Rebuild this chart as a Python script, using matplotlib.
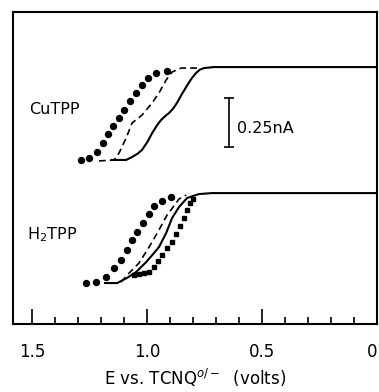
import matplotlib
matplotlib.use("Agg")
import matplotlib.pyplot as plt
from matplotlib.ticker import MultipleLocator

# potential (V vs TCNQ) and current (nA)
cu_solid_v = [1.152, 1.091, 1.065, 1.040, 1.022, 0.998, 0.978, 0.956, 0.939, 0.920, 0.904,
              0.886, 0.870, 0.850, 0.830, 0.808, 0.787, 0.770, 0.752, 0.709, 0.0]
cu_solid_i = [0.837, 0.837, 0.852, 0.870, 0.888, 0.930, 0.974, 1.015, 1.041, 1.062, 1.077,
              1.100, 1.128, 1.170, 1.209, 1.250, 1.281, 1.298, 1.306, 1.311, 1.311]

cu_dash_v = [1.209, 1.143, 1.122, 1.091, 1.065, 1.022, 0.978, 0.948, 0.917, 0.891, 0.852, 0.774]
cu_dash_i = [0.832, 0.837, 0.872, 0.949, 1.026, 1.066, 1.128, 1.179, 1.245, 1.286, 1.306, 1.306]

cu_dot_v = [1.287, 1.252, 1.217, 1.191, 1.170, 1.148, 1.122, 1.100, 1.074, 1.048, 1.022, 0.996, 0.961, 0.913]
cu_dot_i = [0.837, 0.847, 0.878, 0.923, 0.969, 1.010, 1.051, 1.092, 1.138, 1.179, 1.219, 1.255, 1.281, 1.291]

h2_solid_v = [1.183, 1.130, 1.087, 1.048, 1.004, 0.970, 0.948, 0.917, 0.891, 0.861, 0.826, 0.774, 0.717, 0.0]
h2_solid_i = [0.209, 0.209, 0.235, 0.265, 0.316, 0.362, 0.393, 0.464, 0.541, 0.597, 0.643, 0.663, 0.668, 0.668]

h2_dash_v = [1.113, 1.078, 1.035, 0.991, 0.948, 0.913, 0.896, 0.861, 0.830]
h2_dash_i = [0.214, 0.260, 0.311, 0.393, 0.480, 0.556, 0.582, 0.638, 0.658]

h2_dot_v = [1.265, 1.222, 1.178, 1.143, 1.113, 1.087, 1.065, 1.043, 1.017, 0.991, 0.970, 0.935, 0.896]
h2_dot_i = [0.209, 0.214, 0.240, 0.286, 0.327, 0.378, 0.429, 0.469, 0.515, 0.561, 0.602, 0.628, 0.648]

h2_sq_v = [1.057, 1.035, 1.013, 0.991, 0.970, 0.952, 0.935, 0.913, 0.891, 0.874, 0.857, 0.839, 0.826, 0.813, 0.800]
h2_sq_i = [0.250, 0.255, 0.260, 0.265, 0.291, 0.321, 0.352, 0.388, 0.418, 0.459, 0.500, 0.541, 0.582, 0.617, 0.638]

scale_v = 0.643
scale_i = [0.903, 1.153]

fig = plt.figure(figsize=(3.79, 3.92), dpi=100)
ax = fig.add_axes([13 / 379, 68 / 392, 364 / 379, 312 / 392])

lw = 1.5
ax.plot(cu_solid_v, cu_solid_i, color="black", lw=lw)
ax.plot(cu_dash_v, cu_dash_i, color="black", lw=1.2, ls=(0, (4, 2.5)))
ax.plot(cu_dot_v, cu_dot_i, "o", color="black", ms=4.3)

ax.plot(h2_solid_v, h2_solid_i, color="black", lw=lw)
ax.plot(h2_dash_v, h2_dash_i, color="black", lw=1.2, ls=(0, (4, 2.5)))
ax.plot(h2_dot_v, h2_dot_i, "o", color="black", ms=4.3)
ax.plot(h2_sq_v, h2_sq_i, "s", color="black", ms=2.8)

# scale bar
ax.plot([scale_v, scale_v], scale_i, color="black", lw=1.2)
ax.plot([scale_v, scale_v], scale_i, "_", color="black", ms=7, mew=1.2)
ax.text(0.609, 1.0, "0.25nA", fontsize=11.5, va="center", ha="left")

ax.text(1.513, 1.097, "CuTPP", fontsize=11.5, va="center", ha="left")
ax.text(1.522, 0.454, "H$_2$TPP", fontsize=11.5, va="center", ha="left")

ax.set_xlim(1.583, 0.0)
ax.set_ylim(0, 1.592)
ax.set_yticks([])
ax.xaxis.set_minor_locator(MultipleLocator(0.1))
ax.set_xticks([1.5, 1.0, 0.5, 0.0])
ax.set_xticklabels(["1.5", "1.0", "0.5", "0"])
ax.tick_params(axis="x", which="major", direction="in", length=11, width=1.2,
               labelsize=12, pad=14)
ax.tick_params(axis="x", which="minor", direction="in", length=5, width=1.2)
ax.get_xticklabels()[-1].set_horizontalalignment("right")
for s in ax.spines.values():
    s.set_linewidth(1.5)
ax.set_xlabel("E vs. TCNQ$^{o/-}$  (volts)", fontsize=12, labelpad=4)

fig.savefig("out.png", dpi=100)
